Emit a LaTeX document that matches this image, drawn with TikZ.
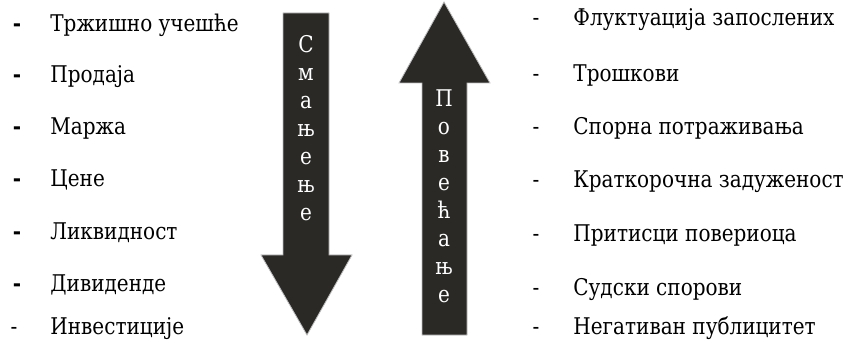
\documentclass[tikz,border=0pt]{standalone}
\usepackage{fontspec}
\setmainfont{DejaVu Serif}[FakeStretch=0.87]

\definecolor{arrowfill}{HTML}{2A2926}

\tikzset{
  itemtext/.style={anchor=base west, inner sep=0pt, font=\fontsize{11.5}{15}\selectfont},
  itemdash/.style={anchor=base, inner sep=0pt, font=\fontsize{11.5}{15}\selectfont},
  boldash/.style={itemdash, font=\fontsize{11.5}{15}\selectfont\bfseries},
  bigarrow/.style={fill=arrowfill, draw=black!25, line width=0.4pt},
  arrowword/.style={anchor=north, inner sep=0pt, text=white, align=center,
    font=\fontsize{11.5}{14}\selectfont}
}

\begin{document}
\begin{tikzpicture}[x=0.5pt, y=-0.5pt]
    \useasboundingbox (0,0) rectangle (847,342);

    % Left list: what goes down
    \node[boldash] (dl1) at (17,32) {-};
    \node[itemtext] (l1) at (50,32) {Тржишно учешће};
    \node[boldash] (dl2) at (17,83) {-};
    \node[itemtext] (l2) at (50,83) {Продаја};
    \node[boldash] (dl3) at (17,135) {-};
    \node[itemtext] (l3) at (50,135) {Маржа};
    \node[boldash] (dl4) at (17,187) {-};
    \node[itemtext] (l4) at (50,187) {Цене};
    \node[boldash] (dl5) at (17,240) {-};
    \node[itemtext] (l5) at (50,240) {Ликвидност};
    \node[boldash] (dl6) at (17,292) {-};
    \node[itemtext] (l6) at (50,292) {Дивиденде};
    \node[itemdash] (dl7) at (14,335) {-};
    \node[itemtext] (l7) at (50,335) {Инвестиције};

    % Down arrow (decrease)
    \coordinate (D_top) at (306,13);
    \coordinate (D_tip) at (307,335);
    \draw[bigarrow] (283,13) -- (329,13) -- (329,255) -- (352,255)
        -- (D_tip) -- (261,255) -- (283,255) -- cycle;
    \node[arrowword] (smanjenje) at (306,35) {С\\м\\а\\њ\\е\\њ\\е};

    % Up arrow (increase)
    \coordinate (U_tip) at (444,2);
    \draw[bigarrow] (422,335) -- (422,83) -- (399,83) -- (U_tip)
        -- (490,83) -- (467,83) -- (467,335) -- cycle;
    \node[arrowword] (povecanje) at (444,89) {П\\о\\в\\е\\ћ\\а\\њ\\е};

    % Right list: what goes up
    \node[itemdash] (dr1) at (536,26) {-};
    \node[itemtext] (r1) at (573,26) {Флуктуација запослених};
    \node[itemdash] (dr2) at (536,82) {-};
    \node[itemtext] (r2) at (573,82) {Трошкови};
    \node[itemdash] (dr3) at (536,135) {-};
    \node[itemtext] (r3) at (573,135) {Спорна потраживања};
    \node[itemdash] (dr4) at (536,188) {-};
    \node[itemtext] (r4) at (573,188) {Краткорочна задуженост};
    \node[itemdash] (dr5) at (536,242) {-};
    \node[itemtext] (r5) at (573,242) {Притисци повериоца};
    \node[itemdash] (dr6) at (536,295) {-};
    \node[itemtext] (r6) at (573,295) {Судски спорови};
    \node[itemdash] (dr7) at (536,335) {-};
    \node[itemtext] (r7) at (573,335) {Негативан публицитет};
\end{tikzpicture}
\end{document}
